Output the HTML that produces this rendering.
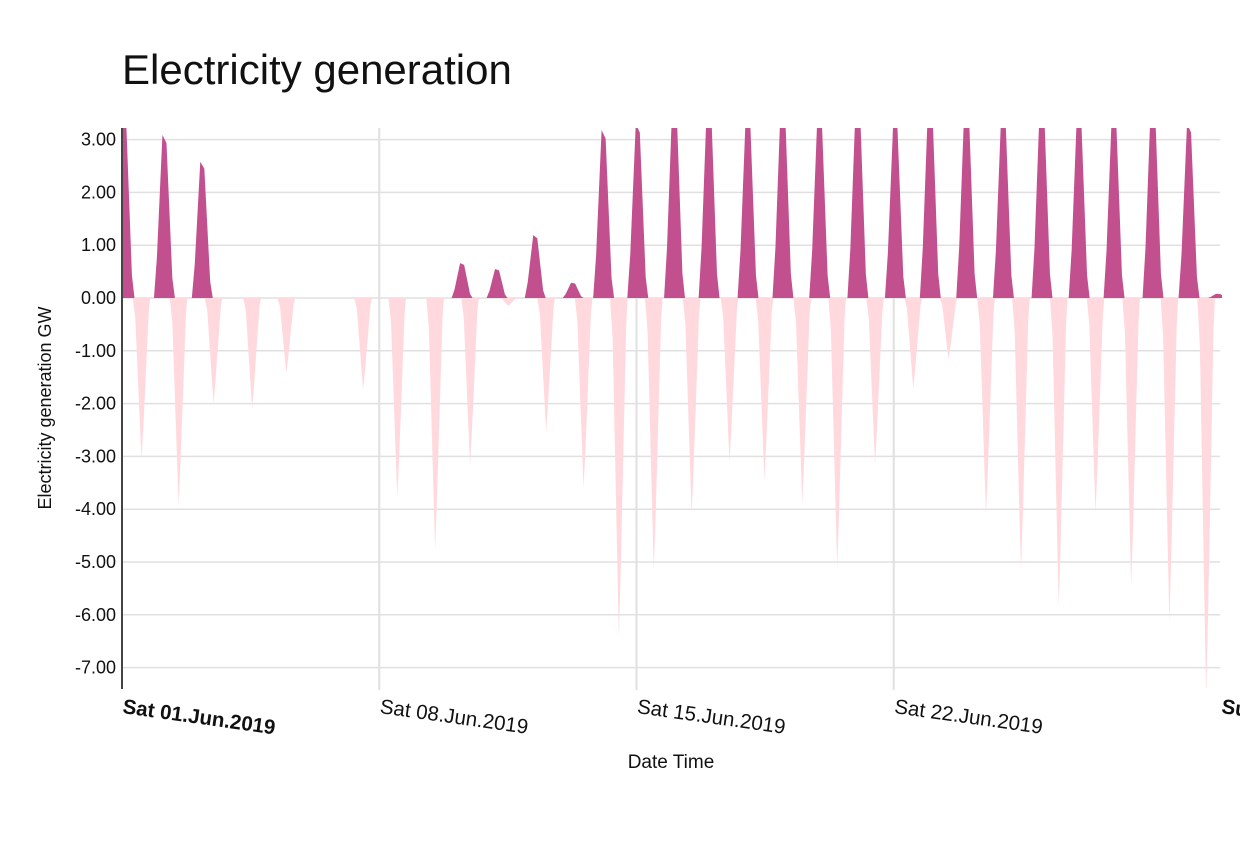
<!DOCTYPE html>
<html><head><meta charset="utf-8"><style>
body{margin:0;background:#fff;width:1240px;height:837px;overflow:hidden;font-family:"Liberation Sans",sans-serif}
</style></head><body>
<svg id="chart" width="1240" height="837" xmlns="http://www.w3.org/2000/svg" font-family="Liberation Sans, sans-serif">
<text x="122" y="84" font-size="42" fill="#111">Electricity generation</text>
<defs><clipPath id="plotclip"><rect x="122" y="128" width="1100" height="560"/></clipPath></defs>
<g id="grid"></g>
<g id="marks" clip-path="url(#plotclip)"></g>
<g id="axes"></g>
<text transform="translate(51,408) rotate(-90)" text-anchor="middle" font-size="18" fill="#111">Electricity generation GW</text>
<text x="671" y="768" text-anchor="middle" font-size="19" fill="#111">Date Time</text>
</svg>
<script>
const yTicks=[3,2,1,0,-1,-2,-3,-4,-5,-6,-7];
const xTickDays=[0,7,14,21,29.9];
const xTickLabels=["Sat 01.Jun.2019","Sat 08.Jun.2019","Sat 15.Jun.2019","Sat 22.Jun.2019","Sun 30.Jun.2019"];
const xTickBold=[true,false,false,false,true];
const posTimes=[0.05,1.15,2.18,9.25,10.2,11.24,12.27,13.1,14.03,15.03,15.97,17.03,17.98,18.98,20.02,21.04,21.99,22.98,23.98,25.03,26.04,26.99,28.05,29.03,29.82];
const posValues=[3.6,3.09,2.58,0.66,0.55,1.19,0.29,3.18,3.3,3.8,3.8,3.6,3.8,3.6,3.8,3.4,3.8,3.8,3.6,3.8,3.6,3.6,3.8,3.3,0.08];
const negTimes=[0.53,1.54,2.49,3.54,4.47,6.56,7.49,8.52,9.47,10.51,11.54,12.56,13.52,14.47,15.5,16.53,17.48,18.51,19.46,20.49,21.53,22.49,23.51,24.46,25.49,26.49,27.46,28.5,29.5];
const negValues=[-3.06,-3.92,-2.0,-2.1,-1.43,-1.74,-3.79,-4.77,-3.16,-0.15,-2.53,-3.6,-6.42,-5.16,-4.11,-3.11,-3.44,-3.88,-5.12,-3.16,-1.71,-1.17,-4.11,-5.16,-5.86,-4.07,-5.45,-6.14,-7.6];

const X0=122,DAY=36.75;
function xs(d){return X0+d*DAY;}
function ys(v){return 298-v*52.8;}
const NS="http://www.w3.org/2000/svg";
const grid=document.getElementById('grid'),marks=document.getElementById('marks'),axes=document.getElementById('axes');
function mk(tag,attrs,parent){const e=document.createElementNS(NS,tag);for(const k in attrs)e.setAttribute(k,attrs[k]);parent.appendChild(e);return e;}
yTicks.forEach(v=>{
  const l=mk('line',{x1:122,x2:1220,y1:ys(v),y2:ys(v),stroke:'#e0e0e0','stroke-width':1.5},grid);
  
  
  const t=mk('text',{x:116,y:ys(v)+6,'text-anchor':'end','font-size':18,fill:'#111'},axes);
  t.textContent=v.toFixed(2);
  
  
});
xTickDays.forEach((d,i)=>{
  const x=xs(d);
  if(i>0&&i<4){
    const l=mk('line',{x1:x,x2:x,y1:128,y2:690,stroke:'#e0e0e0','stroke-width':2},grid);
    
    
  }
  const t=mk('text',{transform:`translate(${x},713) rotate(8)`,'font-size':20.5,fill:'#111','font-weight':xTickBold[i]?'bold':'normal'},axes);
  t.textContent=xTickLabels[i];
  
  
});
const ax=mk('line',{x1:122,x2:122,y1:128,y2:689,stroke:'#444','stroke-width':2},axes);


negTimes.forEach((t,i)=>{
  const v=negValues[i];
  const pts=[[t-0.24,0],[t-0.17,v*0.12],[t,v],[t+0.05,v*0.8],[t+0.2,v*0.08],[t+0.24,0]];
  const p=mk('polygon',{points:pts.map(q=>xs(q[0])+','+ys(q[1])).join(' '),fill:'#ffd9de'},marks);
  
  
});
posTimes.forEach((t,i)=>{
  const v=posValues[i];
  const pts=[[t-0.28,0],[t-0.2,v*0.25],[t-0.05,v],[t+0.06,v*0.95],[t+0.22,v*0.12],[t+0.29,0]];
  const p=mk('polygon',{points:pts.map(q=>xs(q[0])+','+ys(q[1])).join(' '),fill:'#c2508f'},marks);
  
  
});
</script>
</body></html>
